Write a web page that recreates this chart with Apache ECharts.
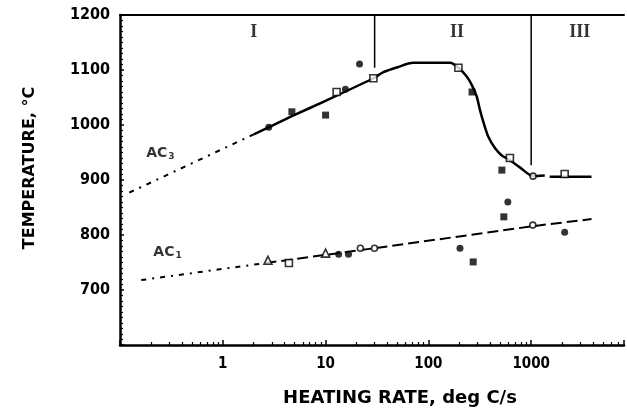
<!DOCTYPE html>
<html>
<head>
<meta charset="utf-8">
<script src="https://cdn.jsdelivr.net/npm/echarts@6/dist/echarts.min.js"></script>
<style>
  html, body { margin: 0; padding: 0; background: #fff; }
  #chart { width: 627px; height: 417px; }
</style>
</head>
<body>
<div id="chart"></div>
<script>
// Transformation temperatures (deg C) against heating rate (deg C/s, log scale)
const xTickValues = [1, 10, 100, 1000];
const yTickValues = [700, 800, 900, 1000, 1100, 1200];

// Ac3: extrapolated part (dotted) and measured curve (solid, with a short gap)
const ac3ExtrapRate = [0.123, 2.0];
const ac3ExtrapTemp = [877, 983];
const ac3Rate = [2.0, 4.7, 10, 29.2, 36.5, 50, 71, 104, 163, 196, 236, 264, 295, 318, 342, 382, 444, 515, 621, 776, 1043, 1355, null, 1514, 3864];
const ac3Temp = [983, 1016, 1044, 1085, 1096, 1105, 1113, 1113, 1113, 1104, 1088, 1073, 1052, 1027, 1006, 979, 958, 945, 936, 923, 907, 908, null, 906, 906];

// Ac1: extrapolated part (dotted) and measured line (dashed)
const ac1ExtrapRate = [0.161, 2.6];
const ac1ExtrapTemp = [718, 749];
const ac1Rate = [2.6, 30, 1038, 3864];
const ac1Temp = [749, 776, 816, 829];

// Measured points, grouped by symbol
const filledCircleRate = [2.8, 15.6, 21.4, 593, 13.4, 16.7, 203, 2118];
const filledCircleTemp = [996, 1065, 1111, 860, 765, 765, 776, 805];
const filledSquareRate = [4.7, 10, 266, 519, 542, 273];
const filledSquareTemp = [1024, 1018, 1060, 918, 833, 751];
const openSquareRate = [12.8, 29.2, 196, 621, 2118, 4.4];
const openSquareTemp = [1060, 1085, 1104, 940, 911, 749];
const openCircleRate = [1043, 21.8, 29.9, 1038];
const openCircleTemp = [907, 776, 776, 818];
const openTriangleRate = [2.75, 10];
const openTriangleTemp = [754, 767];

// Regime boundaries: heating rate and the temperature where each line stops
const regimeNames = ['I', 'II', 'III'];
const boundaryRate = [30, 1000];
const boundaryTemp = [1104, 927];

const zip = (xs, ys) => xs.map((x, i) => (x === null ? [null, null] : [x, ys[i]]));

const axisFont = 'DejaVu Sans Condensed, DejaVu Sans, sans-serif';
const ink = '#000';

function pointSeries(rates, temps, symbol, size, filled) {
  return {
    type: 'scatter',
    data: zip(rates, temps),
    symbol: symbol,
    symbolSize: size,
    z: 5,
    itemStyle: filled
      ? { color: ink }
      : { color: '#fff', borderColor: ink, borderWidth: 1.6 }
  };
}

function boundarySeries(i) {
  return {
    type: 'line',
    data: [[boundaryRate[i], 1200], [boundaryRate[i], boundaryTemp[i]]],
    symbol: 'none',
    lineStyle: { color: ink, width: 1.5 },
    z: 3
  };
}

const chart = echarts.init(document.getElementById('chart'));

chart.setOption({
  animation: false,
  backgroundColor: '#fff',
  grid: { left: 120, right: 0, top: 15, bottom: 72 },
  xAxis: [{
    type: 'log',
    logBase: 10,
    min: 0.1,
    max: 8000,
    name: 'HEATING RATE, deg C/s',
    nameLocation: 'middle',
    nameGap: 44,
    nameTextStyle: { fontFamily: 'DejaVu Sans, sans-serif', fontWeight: 'bold', fontSize: 18, color: ink, padding: [0, 0, 0, 56] },
    axisLine: { show: true, lineStyle: { color: ink, width: 2.5 } },
    axisTick: { show: true, inside: true, length: 5, lineStyle: { color: ink, width: 1.5 } },
    minorTick: { show: true, splitNumber: 9, length: 3, lineStyle: { color: ink, width: 1.2 } },
    axisLabel: {
      margin: 12,
      fontFamily: axisFont,
      fontWeight: 'bold',
      fontSize: 15,
      color: ink,
      formatter: v => {
        const r = Math.round(v);
        return (Math.abs(v - r) < 1e-6 && xTickValues.includes(r)) ? String(r) : '';
      }
    },
    splitLine: { show: false }
  }, {
    type: 'log',
    logBase: 10,
    min: 0.1,
    max: 8000,
    position: 'top',
    axisLine: { show: true, lineStyle: { color: ink, width: 2 } },
    axisTick: { show: false },
    axisLabel: { show: false },
    splitLine: { show: false }
  }],
  yAxis: {
    type: 'value',
    min: 600,
    max: 1200,
    interval: 100,
    name: 'TEMPERATURE, °C',
    nameLocation: 'middle',
    nameRotate: 90,
    nameGap: 82,
    nameTextStyle: { fontFamily: 'DejaVu Sans, sans-serif', fontWeight: 'bold', fontSize: 16, color: ink, padding: [0, 0, 0, 24] },
    axisLine: { show: true, lineStyle: { color: ink, width: 2.5 } },
    axisTick: { show: true, inside: true, length: 4, lineStyle: { color: ink, width: 1.5 } },
    minorTick: { show: true, splitNumber: 10, length: 3, lineStyle: { color: ink, width: 1.2 } },
    axisLabel: {
      margin: 10,
      fontFamily: axisFont,
      fontWeight: 'bold',
      fontSize: 16,
      color: ink,
      formatter: v => (yTickValues.includes(v) ? String(v) : '')
    },
    splitLine: { show: false }
  },
  series: [
    {
      type: 'line',
      data: zip(ac3ExtrapRate, ac3ExtrapTemp),
      symbol: 'none',
      lineStyle: { color: ink, width: 2, type: [5, 6, 2, 6] }
    },
    {
      type: 'line',
      data: zip(ac3Rate, ac3Temp),
      symbol: 'none',
      smooth: 0.25,
      connectNulls: false,
      lineStyle: { color: ink, width: 2.5 }
    },
    {
      type: 'line',
      data: zip(ac1ExtrapRate, ac1ExtrapTemp),
      symbol: 'none',
      lineStyle: { color: ink, width: 2, type: [5, 6, 2, 6] }
    },
    {
      type: 'line',
      data: zip(ac1Rate, ac1Temp),
      symbol: 'none',
      lineStyle: { color: ink, width: 2, type: [11, 5] }
    },
    boundarySeries(0),
    boundarySeries(1),
    pointSeries(filledCircleRate, filledCircleTemp, 'circle', 7, true),
    pointSeries(filledSquareRate, filledSquareTemp, 'rect', 7, true),
    pointSeries(openSquareRate, openSquareTemp, 'rect', 7, false),
    pointSeries(openCircleRate, openCircleTemp, 'circle', 6, false),
    pointSeries(openTriangleRate, openTriangleTemp, 'triangle', 8, false),
    {
      // curve names
      type: 'scatter',
      symbolSize: 0,
      silent: true,
      data: [
        { value: [0.18, 949], name: 'AC3' },
        { value: [0.211, 769], name: 'AC1' }
      ],
      label: {
        show: true,
        position: 'right',
        distance: 0,
        formatter: p => '{b|AC}{s|' + p.name.slice(2) + '}',
        rich: {
          b: { fontFamily: 'DejaVu Sans, sans-serif', fontWeight: 'bold', fontSize: 14, color: ink },
          s: { fontFamily: 'DejaVu Sans, sans-serif', fontWeight: 'bold', fontSize: 9, color: ink, padding: [8, 0, 0, 1] }
        }
      }
    },
    {
      // regime names
      type: 'scatter',
      symbolSize: 0,
      silent: true,
      data: [
        { value: [2.0, 1169], name: regimeNames[0] },
        { value: [190, 1169], name: regimeNames[1] },
        { value: [2972, 1169], name: regimeNames[2] }
      ],
      label: {
        show: true,
        position: 'inside',
        formatter: p => p.name,
        fontFamily: 'Liberation Serif, serif',
        fontWeight: 'bold',
        fontSize: 18,
        color: ink
      }
    }
  ]
});
</script>
</body>
</html>
